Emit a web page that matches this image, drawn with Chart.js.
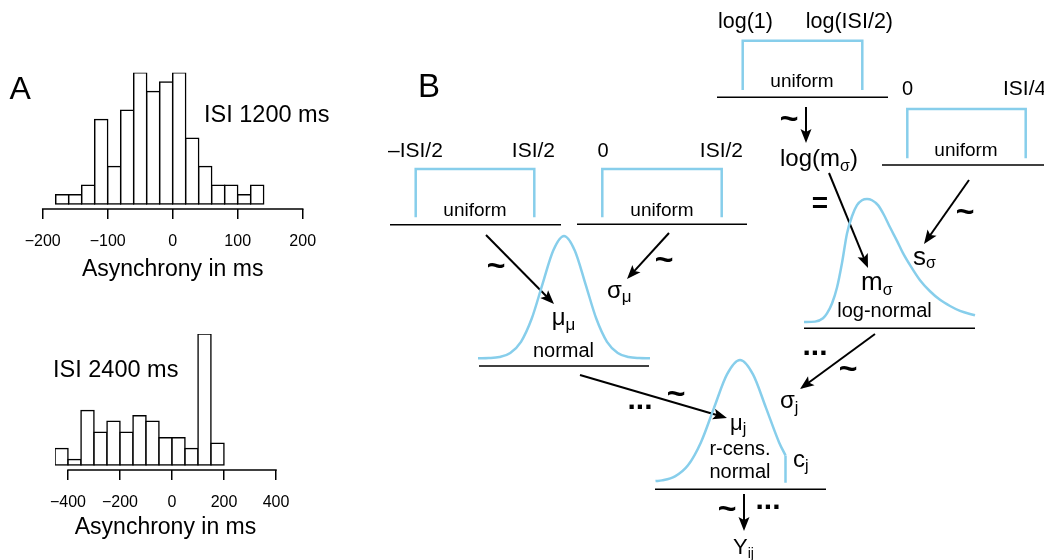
<!DOCTYPE html>
<html>
<head>
<meta charset="utf-8">
<script src="https://cdn.jsdelivr.net/npm/chart.js@4.4.1/dist/chart.umd.min.js"></script>
<style>
html,body{margin:0;padding:0;background:#fff;}
body{width:1044px;height:560px;position:relative;overflow:hidden;}
.box{position:absolute;}
</style>
</head>
<body>
<div class="box" style="left:0;top:60px;width:340px;height:230px;"><canvas id="h1" width="340" height="230"></canvas></div>
<div class="box" style="left:0;top:320px;width:340px;height:222px;"><canvas id="h2" width="340" height="222"></canvas></div>
<div class="box" style="left:380px;top:0;width:664px;height:560px;"><canvas id="diag" width="664" height="560"></canvas></div>
<script>
// ---------- DATA ----------
// Panel A, ISI 1200 ms: bin centres (20 ms bins) and counts
const isi1200Centers = [-170,-150,-130,-110,-90,-70,-50,-30,-10,10,30,50,70,90,110,130];
const isi1200Counts  = [1,1,2,9,4,10,14,12,13,14,7,4,2,2,1,2];
const isi1200Ticks   = [-200,-100,0,100,200];
// Panel A, ISI 2400 ms: bin centres (50 ms bins) and counts
const isi2400Centers = [-425,-375,-325,-275,-225,-175,-125,-75,-25,25,75,125,175];
const isi2400Counts  = [3,1,10,6,8,6,9,8,5,5,3,24,4];
const isi2400Ticks   = [-400,-200,0,200,400];

// Panel B: sketched density shapes (relative heights)
const normalZ   = [-4,-3.5,-3,-2.5,-2,-1.5,-1,-0.5,0,0.5,1,1.5,2,2.5,3,3.5,4];
const normalH   = [0,0.002,0.011,0.044,0.135,0.325,0.607,0.882,1,0.882,0.607,0.325,0.135,0.044,0.011,0.002,0];
const censZ     = [-3.25,-3,-2.5,-2,-1.5,-1,-0.5,0,0.5,1,1.5,1.75];
const censH     = [0.005,0.011,0.044,0.135,0.325,0.607,0.882,1,0.882,0.607,0.325,0.216];
const logNormX  = [804,815,823,827,832,837,842,847,852,857,862,867,872,878,884,890,897,903,911,920,930,940,950,960,975];
const logNormH  = [0,0.003,0.03,0.07,0.15,0.28,0.48,0.72,0.86,0.95,0.99,1,0.99,0.95,0.87,0.77,0.66,0.56,0.45,0.34,0.25,0.18,0.13,0.09,0.055];

// ---------- STYLE / LAYOUT ----------
const FONT = "'Liberation Sans', Arial, Helvetica, sans-serif";
const BLUE = '#87CEEB';
const fmtTick = v => (v < 0 ? '\u2212' + Math.abs(v) : String(v));

const rAxisLine = {
  id: 'rAxisLine',
  afterDraw(chart) {
    const s = chart.scales.x, ctx = chart.ctx, t = s.ticks;
    const x0 = s.getPixelForValue(t[0].value), x1 = s.getPixelForValue(t[t.length - 1].value);
    ctx.save(); ctx.strokeStyle = '#000'; ctx.lineWidth = 1.5;
    ctx.beginPath(); ctx.moveTo(x0 - 0.75, s.top); ctx.lineTo(x1 + 0.75, s.top); ctx.stroke(); ctx.restore();
  }
};

function panelText(labels) {
  return {
    id: 'panelText',
    afterDraw(chart) {
      const ctx = chart.ctx;
      ctx.save(); ctx.fillStyle = '#000'; ctx.textBaseline = 'alphabetic'; ctx.textAlign = 'left';
      labels.forEach(l => { ctx.font = l.size + 'px ' + FONT; ctx.fillText(l.text, l.x, l.y); });
      ctx.restore();
    }
  };
}

function histChart(id, centers, counts, ticks, o) {
  return new Chart(document.getElementById(id), {
    type: 'bar',
    data: { datasets: [{
      data: centers.map((c, i) => ({ x: c, y: counts[i] })),
      backgroundColor: '#fff', borderColor: '#000', borderWidth: 1.5,
      borderSkipped: false, inflateAmount: 0.75,
      barPercentage: 1, categoryPercentage: 1
    }]},
    options: {
      responsive: false, animation: false, events: [],
      layout: { padding: o.padding },
      plugins: { legend: { display: false }, tooltip: { enabled: false } },
      scales: {
        x: {
          type: 'linear', offset: false, min: o.xmin, max: o.xmax,
          afterBuildTicks: s => { s.ticks = ticks.map(v => ({ value: v })); },
          afterFit: s => { s.height = o.axisH; },
          border: { display: false },
          grid: { display: true, drawOnChartArea: false, drawTicks: true, tickLength: 10, color: '#000', lineWidth: 1.5, offset: false },
          ticks: { autoSkip: false, maxRotation: 0, padding: 13, color: '#000', font: { family: FONT, size: 16 }, callback: fmtTick },
          title: { display: true, text: 'Asynchrony in ms', color: '#000', font: { family: FONT, size: 23 }, padding: { top: 0, bottom: o.titlePad } }
        },
        y: { display: false, min: o.ymin, max: o.ymax }
      }
    },
    plugins: [rAxisLine, panelText(o.labels)]
  });
}

histChart('h1', isi1200Centers, isi1200Counts, isi1200Ticks, {
  xmin: -200, xmax: 200, ymin: -0.53, ymax: 14, axisH: 81, titlePad: 7,
  padding: { left: 42.7, right: 37.3, top: 12.7, bottom: 0 },
  labels: [{ text: 'A', x: 9.5, y: 39, size: 32 }, { text: 'ISI 1200 ms', x: 204, y: 61.5, size: 23.5 }]
});
histChart('h2', isi2400Centers, isi2400Counts, isi2400Ticks, {
  xmin: -450, xmax: 400, ymin: -0.92, ymax: 24, axisH: 72, titlePad: 1,
  padding: { left: 55, right: 64, top: 14, bottom: 0 },
  labels: [{ text: 'ISI 2400 ms', x: 53, y: 57.3, size: 23.5 }]
});

// ---------- PANEL B (diagram in page-pixel units) ----------
const brackets = [ // [left, right, top, bottom]
  [415.7, 534.3, 169, 217.3], [602.3, 721.7, 169, 217.3],
  [742.7, 862.3, 40.7, 90], [907.3, 1025.7, 109, 158.3]
];
const baselines = [ // [x0, x1, y]
  [390, 561, 224.7], [577, 747, 224.3], [479, 649, 366], [717, 888, 97.3],
  [882, 1044, 165], [804, 975, 328.3], [655, 826, 489.3]
];
const arrows = [ // [x0, y0, x1(tip), y1(tip)]
  [486, 235, 554, 304], [669, 233, 627, 279], [806, 107, 806, 143], [829, 173, 868, 268],
  [969, 180, 924, 244], [580, 375, 727, 418], [875, 334, 800, 389], [744, 494, 744, 531]
];
const curves = [ // normal 1, lognormal, censored normal
  { pts: normalZ.map((z, i) => ({ x: 564 + z * 21.5, y: 358.3 - normalH[i] * 122.3 })) },
  { pts: logNormX.map((x, i) => ({ x: x, y: 322 - logNormH[i] * 123 })) },
  { pts: censZ.map((z, i) => ({ x: 740 + z * 26, y: 481.7 - censH[i] * 121.7 })) }
];

const ds = [];
brackets.forEach(b => ds.push({ data: [{x:b[0],y:b[3]},{x:b[0],y:b[2]},{x:b[1],y:b[2]},{x:b[1],y:b[3]}], borderColor: BLUE, borderWidth: 2.5 }));
baselines.forEach(b => ds.push({ data: [{x:b[0],y:b[2]},{x:b[1],y:b[2]}], borderColor: '#000', borderWidth: 1.6 }));
curves.forEach(c => ds.push({ data: c.pts, borderColor: BLUE, borderWidth: 2.5, cubicInterpolationMode: 'monotone' }));
{ const last = curves[2].pts[curves[2].pts.length - 1];
  ds.push({ data: [{x:last.x,y:last.y},{x:last.x,y:482.7}], borderColor: BLUE, borderWidth: 2.5 }); }
arrows.forEach(a => {
  const dx = a[2] - a[0], dy = a[3] - a[1], L = Math.hypot(dx, dy);
  ds.push({ data: [{x:a[0],y:a[1]},{x:a[2]-dx/L*8,y:a[3]-dy/L*8}], borderColor: '#000', borderWidth: 2 });
});
ds.forEach(d => { d.showLine = true; d.pointRadius = 0; d.fill = false; d.borderCapStyle = 'butt'; d.borderJoinStyle = 'miter'; });

// text parts: [text, size, dy, weight]
const diagramLabels = [
  { x: 418, y: 97, parts: [['B', 33]] },
  { x: 388, y: 157, parts: [['\u2013ISI/2', 21]] },
  { x: 555, y: 157, align: 'right', parts: [['ISI/2', 21]] },
  { x: 603, y: 157, align: 'center', parts: [['0', 20]] },
  { x: 743, y: 157, align: 'right', parts: [['ISI/2', 21]] },
  { x: 475, y: 216, align: 'center', parts: [['uniform', 19]] },
  { x: 662, y: 216, align: 'center', parts: [['uniform', 19]] },
  { x: 718, y: 28, parts: [['log(1)', 21.5]] },
  { x: 893, y: 28, align: 'right', parts: [['log(ISI/2)', 21.5]] },
  { x: 802, y: 87, align: 'center', parts: [['uniform', 19]] },
  { x: 907.5, y: 95, align: 'center', parts: [['0', 20]] },
  { x: 1003, y: 95, parts: [['ISI/4', 21]] },
  { x: 966, y: 156, align: 'center', parts: [['uniform', 19]] },
  { x: 780, y: 166, parts: [['log(m', 24], ['\u03c3', 16, 5], [')', 24]] },
  { x: 820, y: 211.5, align: 'center', parts: [['=', 28, 0, 'bold']] },
  { x: 551.7, y: 325, parts: [['\u03bc', 24], ['\u03bc', 17, 5]] },
  { x: 563.5, y: 356.7, align: 'center', parts: [['normal', 20]] },
  { x: 607, y: 298, parts: [['\u03c3', 24], ['\u03bc', 17, 4]] },
  { x: 913, y: 265, parts: [['s', 26], ['\u03c3', 16, 3]] },
  { x: 861, y: 290, parts: [['m', 26], ['\u03c3', 16, 5]] },
  { x: 884.5, y: 316.7, align: 'center', parts: [['log-normal', 20]] },
  { x: 730, y: 430, parts: [['\u03bc', 22], ['j', 16, 4]] },
  { x: 740, y: 455, align: 'center', parts: [['r-cens.', 20]] },
  { x: 740, y: 478, align: 'center', parts: [['normal', 20]] },
  { x: 793, y: 467, parts: [['c', 24], ['j', 16, 4]] },
  { x: 780, y: 408, parts: [['\u03c3', 24], ['j', 16, 5]] },
  { x: 733, y: 554, parts: [['Y', 22], ['ij', 14, 4]] }
];
const tildes = [[496, 265], [664, 259], [789, 118], [965, 211], [676, 393], [848, 368], [727, 508]];
const dots = [[640, 407], [815, 353], [768, 507]];

const diagramDecor = {
  id: 'diagramDecor',
  afterDatasetsDraw(chart) {
    const ctx = chart.ctx, xs = chart.scales.x, ys = chart.scales.y;
    const P = (x, y) => [xs.getPixelForValue(x), ys.getPixelForValue(y)];
    ctx.save();
    ctx.fillStyle = '#000';
    // arrow heads
    arrows.forEach(a => {
      const [x0, y0] = P(a[0], a[1]), [x1, y1] = P(a[2], a[3]);
      const ang = Math.atan2(y1 - y0, x1 - x0);
      ctx.save(); ctx.translate(x1, y1); ctx.rotate(ang);
      ctx.beginPath(); ctx.moveTo(0, 0); ctx.lineTo(-14, -5.5); ctx.lineTo(-11, 0); ctx.lineTo(-14, 5.5); ctx.closePath(); ctx.fill();
      ctx.restore();
    });
    ctx.textBaseline = 'alphabetic';
    // labels
    diagramLabels.forEach(l => {
      const [px, py] = P(l.x, l.y);
      const fonts = l.parts.map(p => (p[3] || 'normal') + ' ' + p[1] + 'px ' + FONT);
      const widths = l.parts.map((p, i) => { ctx.font = fonts[i]; return ctx.measureText(p[0]).width; });
      const total = widths.reduce((s, w) => s + w, 0);
      let x = l.align === 'center' ? px - total / 2 : l.align === 'right' ? px - total : px;
      ctx.textAlign = 'left';
      l.parts.forEach((p, i) => { ctx.font = fonts[i]; ctx.fillText(p[0], x, py + (p[2] || 0)); x += widths[i]; });
    });
    // tildes
    ctx.textAlign = 'center';
    ctx.font = 'bold 32px ' + FONT;
    tildes.forEach(t => { const [px, py] = P(t[0], t[1]); ctx.fillText('~', px, py + 0.34 * 32); });
    // ellipses
    ctx.font = 'bold 30px ' + FONT;
    dots.forEach(d => { const [px, py] = P(d[0], d[1]); ctx.fillText('...', px, py + 2); });
    ctx.restore();
  }
};

new Chart(document.getElementById('diag'), {
  type: 'scatter',
  data: { datasets: ds },
  options: {
    responsive: false, animation: false, events: [],
    layout: { padding: 0 },
    plugins: { legend: { display: false }, tooltip: { enabled: false } },
    scales: {
      x: { type: 'linear', min: 380, max: 1044, display: false },
      y: { type: 'linear', min: 0, max: 560, reverse: true, display: false }
    }
  },
  plugins: [diagramDecor]
});
</script>
</body>
</html>
